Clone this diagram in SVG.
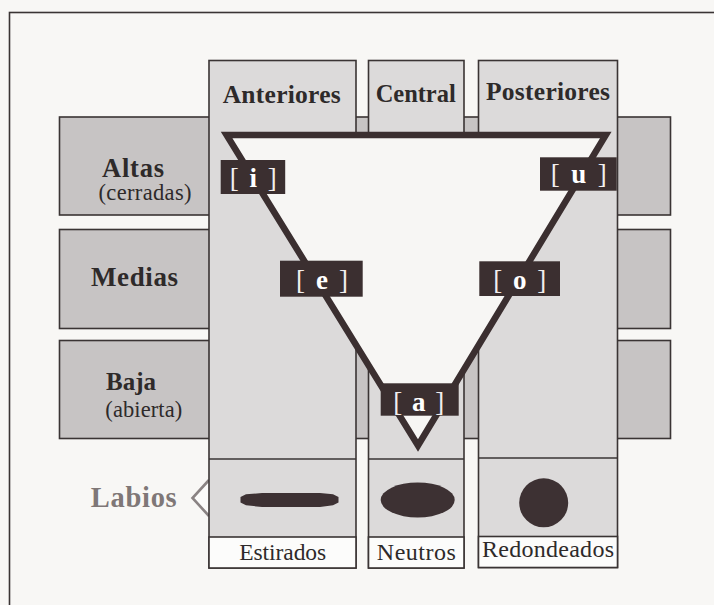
<svg xmlns="http://www.w3.org/2000/svg" width="714" height="605" viewBox="0 0 714 605">
<style>
.bg{fill:#f8f7f5}
.frame{fill:none;stroke:#3a3434;stroke-width:1.6}
.band{fill:#c7c4c4;stroke:#3a3434;stroke-width:1.6}
.col{fill:#dcdada;stroke:#3a3434;stroke-width:1.6}
.lab{fill:#fcfcfb;stroke:#3a3434;stroke-width:1.6}
.div{stroke:#3a3434;stroke-width:1.6}
.vbox{fill:#3b2f30}
.lip{fill:#3d3133}
.hd{font-family:"Liberation Serif",serif;font-weight:bold;fill:#2e2a2a;text-anchor:middle}
.sub{font-family:"Liberation Serif",serif;fill:#2e2a2a;text-anchor:middle}
.ft{font-family:"Liberation Serif",serif;fill:#2e2a2a;text-anchor:middle}
.vw{font-family:"Liberation Serif",serif;font-size:27px;fill:#f2eeee;text-anchor:middle}
.vw tspan.b{font-weight:bold;fill:#ffffff}
.gr{fill:#7f7777}
</style>
<rect class="bg" x="0" y="0" width="714" height="605"/>
<rect class="frame" x="9.5" y="12.5" width="720" height="610"/>

<g id="row-altas"><rect class="band" x="59.5" y="117" width="611" height="98"/></g>
<g id="row-medias"><rect class="band" x="59.5" y="229.5" width="611" height="99"/></g>
<g id="row-baja"><rect class="band" x="59.5" y="340.5" width="611" height="98"/></g>

<g id="labios-pointer"><path d="M209,480 L192.5,498 L209,516" fill="#fbfbfa" stroke="#8a8383" stroke-width="2.6" stroke-linejoin="miter"/></g>

<g id="col-anteriores">
<rect class="col" x="209" y="60.5" width="147" height="507.5"/>
<line class="div" x1="209" y1="459" x2="356" y2="459"/>
<rect class="lab" x="209" y="537" width="147" height="31"/>
</g>
<g id="col-central">
<rect class="col" x="368.5" y="60.5" width="95.5" height="507.5"/>
<line class="div" x1="368.5" y1="459" x2="464" y2="459"/>
<rect class="lab" x="368.5" y="537" width="95.5" height="31"/>
</g>
<g id="col-posteriores">
<rect class="col" x="478.5" y="60.5" width="139" height="507"/>
<line class="div" x1="478.5" y1="458" x2="617.5" y2="458"/>
<rect class="lab" x="478.5" y="536.5" width="139" height="31"/>
</g>

<g id="connectors">
<polygon points="226.6,135 605.8,135 418,445.5" fill="#f7f6f4" stroke="#3b2f30" stroke-width="6.5" stroke-linejoin="miter"/>
</g>

<g id="headers">
<text class="hd" x="281.7" y="103.3" style="font-size:25.5px" textLength="118" lengthAdjust="spacing">Anteriores</text>
<text class="hd" x="415.7" y="101.7" style="font-size:24.5px" textLength="80" lengthAdjust="spacing">Central</text>
<text class="hd" x="548" y="100" style="font-size:25.5px" textLength="124" lengthAdjust="spacing">Posteriores</text>
</g>

<g id="label-altas">
<text class="hd" x="133" y="176.7" style="font-size:26.5px" textLength="62" lengthAdjust="spacing">Altas</text>
<text class="sub" x="145" y="200" style="font-size:22.5px" textLength="93" lengthAdjust="spacing">(cerradas)</text>
</g>
<g id="label-medias"><text class="hd" x="134.5" y="286" style="font-size:27px" textLength="87" lengthAdjust="spacing">Medias</text></g>
<g id="label-baja">
<text class="hd" x="131" y="390" style="font-size:25px" textLength="50" lengthAdjust="spacing">Baja</text>
<text class="sub" x="143.8" y="417.3" style="font-size:22.5px" textLength="77" lengthAdjust="spacing">(abierta)</text>
</g>
<g id="label-labios"><text class="hd gr" x="133.7" y="506.7" style="font-size:28.5px" textLength="86" lengthAdjust="spacing">Labios</text></g>

<g id="vowel-i">
<rect class="vbox" x="220.7" y="160" width="64.5" height="34"/>
<text class="vw" x="253.3" y="186.5" textLength="47" lengthAdjust="spacing">[ <tspan class="b">i</tspan> ]</text>
</g>
<g id="vowel-e">
<rect class="vbox" x="280" y="260.7" width="82.7" height="36"/>
<text class="vw" x="322" y="289" textLength="52" lengthAdjust="spacing">[ <tspan class="b">e</tspan> ]</text>
</g>
<g id="vowel-u">
<rect class="vbox" x="540" y="157.3" width="76.7" height="33.4"/>
<text class="vw" x="578.7" y="183" textLength="56" lengthAdjust="spacing">[ <tspan class="b">u</tspan> ]</text>
</g>
<g id="vowel-o">
<rect class="vbox" x="479.3" y="261.3" width="80.7" height="34.7"/>
<text class="vw" x="519.7" y="288.5" textLength="53" lengthAdjust="spacing">[ <tspan class="b">o</tspan> ]</text>
</g>
<g id="vowel-a">
<rect class="vbox" x="380.7" y="383.3" width="78" height="32.4"/>
<text class="vw" x="418.7" y="411" textLength="51" lengthAdjust="spacing">[ <tspan class="b">a</tspan> ]</text>
</g>

<g id="lips-estirados">
<path class="lip" d="M240.5,497 L246,494.3 L262,493 L320,493 L333,494.3 L338.5,497 L338.5,502.5 L333,505.3 L320,507 L262,507 L246,505.3 L240.5,502.5 Z"/>
<text class="ft" x="282.7" y="560" style="font-size:23.5px" textLength="87" lengthAdjust="spacing">Estirados</text>
</g>
<g id="lips-neutros">
<ellipse class="lip" cx="417.7" cy="500" rx="37" ry="17.5"/>
<text class="ft" x="416.3" y="560" style="font-size:24px" textLength="79" lengthAdjust="spacing">Neutros</text>
</g>
<g id="lips-redondeados">
<circle class="lip" cx="543.7" cy="502.8" r="24.5"/>
<text class="ft" x="548" y="557" style="font-size:24px" textLength="132" lengthAdjust="spacing">Redondeados</text>
</g>
</svg>
